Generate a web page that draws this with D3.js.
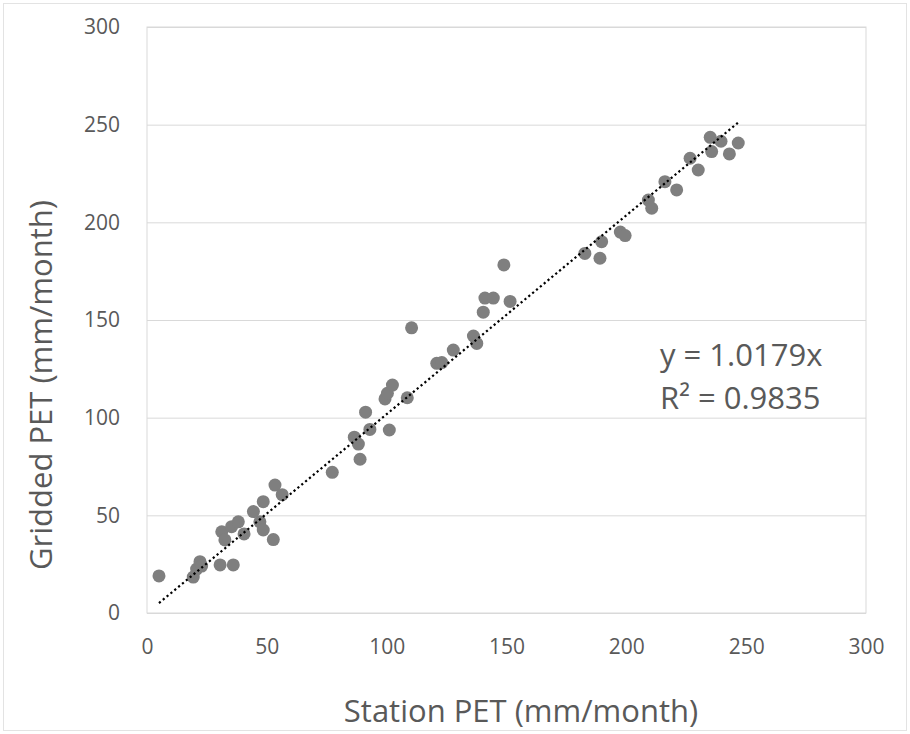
<!DOCTYPE html>
<html>
<head>
<meta charset="utf-8">
<script src="https://cdn.jsdelivr.net/npm/d3@7"></script>
<style>
  body { margin: 0; background: #fff; }
  svg { font-family: "Open Sans", sans-serif; }
  .tick text { fill: #595959; font-size: 21px; font-family: "Open Sans", sans-serif; }
  .label { fill: #595959; font-size: 31px; }
  .eq { fill: #595959; font-size: 31px; }
</style>
</head>
<body>
<svg width="910" height="734"></svg>
<script>
// station vs gridded monthly PET (mm/month)
const stationPET = [5, 19.3, 20.7, 22.1, 22.8, 30.5, 36, 31.2, 32.5, 35.3, 38.1, 40.5, 44.4, 47.1,
  48.5, 48.5, 52.7, 53.4, 56.4, 77.3, 88.9, 86.5, 88.2, 93, 91.2, 101.1, 99.3, 100.3, 102.4,
  108.6, 110.4, 120.9, 123, 127.8, 136.2, 137.6, 140.3, 141, 144.5, 148.9, 151.5,
  182.7, 189, 189.7, 197.5, 199.5, 209.2, 210.6, 216.1, 221, 226.6, 230, 235, 235.6,
  239.5, 243, 246.7];
const griddedPET = [19, 18.4, 22.5, 26.3, 24, 24.6, 24.6, 41.6, 37.4, 44.2, 46.7, 40.5, 51.9, 46.7,
  57, 42.5, 37.6, 65.5, 60.6, 72, 78.7, 90, 86.5, 94, 102.8, 93.7, 109.6, 112.5, 116.7,
  110.2, 146, 127.8, 128.2, 134.6, 141.8, 138, 154, 161.2, 161.2, 178.2, 159.5,
  184.1, 181.6, 190.1, 195, 193.2, 211.4, 207.2, 220.8, 216.6, 232.8, 226.8, 243.5, 236.2,
  241.5, 235, 240.6];
const slope = 1.0179;
const ticks = [0, 50, 100, 150, 200, 250, 300];

const svg = d3.select('svg');
const margin = { left: 147, top: 27, right: 44, bottom: 121 };
const width = 910 - margin.left - margin.right;
const height = 734 - margin.top - margin.bottom;

// chart area border
svg.append('rect')
  .attr('x', 3.5).attr('y', 3.5)
  .attr('width', 903).attr('height', 727)
  .attr('fill', 'none').attr('stroke', '#e3e3e3');

const chart = svg.append('g')
  .attr('transform', `translate(${margin.left}, ${margin.top})`);

const xScale = d3.scaleLinear().domain([0, 300]).range([0, width]);
const yScale = d3.scaleLinear().domain([0, 300]).range([height, 0]);

// gridlines
chart.append('g')
  .call(d3.axisLeft(yScale).tickValues(ticks).tickSize(-width).tickFormat(''))
  .call(g => g.select('.domain').remove())
  .selectAll('line').attr('stroke', '#d9d9d9');

chart.append('rect')
  .attr('width', width).attr('height', height)
  .attr('fill', 'none').attr('stroke', '#d9d9d9');

chart.append('g')
  .attr('class', 'axis')
  .call(d3.axisLeft(yScale).tickValues(ticks).tickSize(0).tickPadding(27))
  .call(g => g.select('.domain').remove());

chart.append('g')
  .attr('class', 'axis')
  .attr('transform', `translate(0, ${height})`)
  .call(d3.axisBottom(xScale).tickValues(ticks).tickSize(0).tickPadding(26))
  .call(g => g.select('.domain').remove());

// points
chart.selectAll('circle')
  .data(stationPET)
  .enter()
  .append('circle')
  .attr('cx', d => xScale(d))
  .attr('cy', (d, i) => yScale(griddedPET[i]))
  .attr('r', 6.5)
  .attr('fill', '#7f7f7f');

// trendline through origin
const xExt = d3.extent(stationPET);
chart.append('line')
  .attr('x1', xScale(xExt[0])).attr('y1', yScale(xExt[0] * slope))
  .attr('x2', xScale(xExt[1])).attr('y2', yScale(xExt[1] * slope))
  .attr('stroke', '#000')
  .attr('stroke-width', 2.2)
  .attr('stroke-dasharray', '2.2,2.8');

svg.append('text')
  .attr('class', 'eq')
  .attr('x', 660).attr('y', 366)
  .text('y = 1.0179x');

svg.append('text')
  .attr('class', 'eq')
  .attr('x', 660).attr('y', 409)
  .text('R² = 0.9835');

svg.append('text')
  .attr('class', 'label')
  .attr('x', 521)
  .attr('y', 722)
  .attr('text-anchor', 'middle')
  .text('Station PET (mm/month)');

svg.append('text')
  .attr('class', 'label')
  .attr('transform', 'translate(52, 385) rotate(-90)')
  .attr('text-anchor', 'middle')
  .text('Gridded PET (mm/month)');
</script>
</body>
</html>
